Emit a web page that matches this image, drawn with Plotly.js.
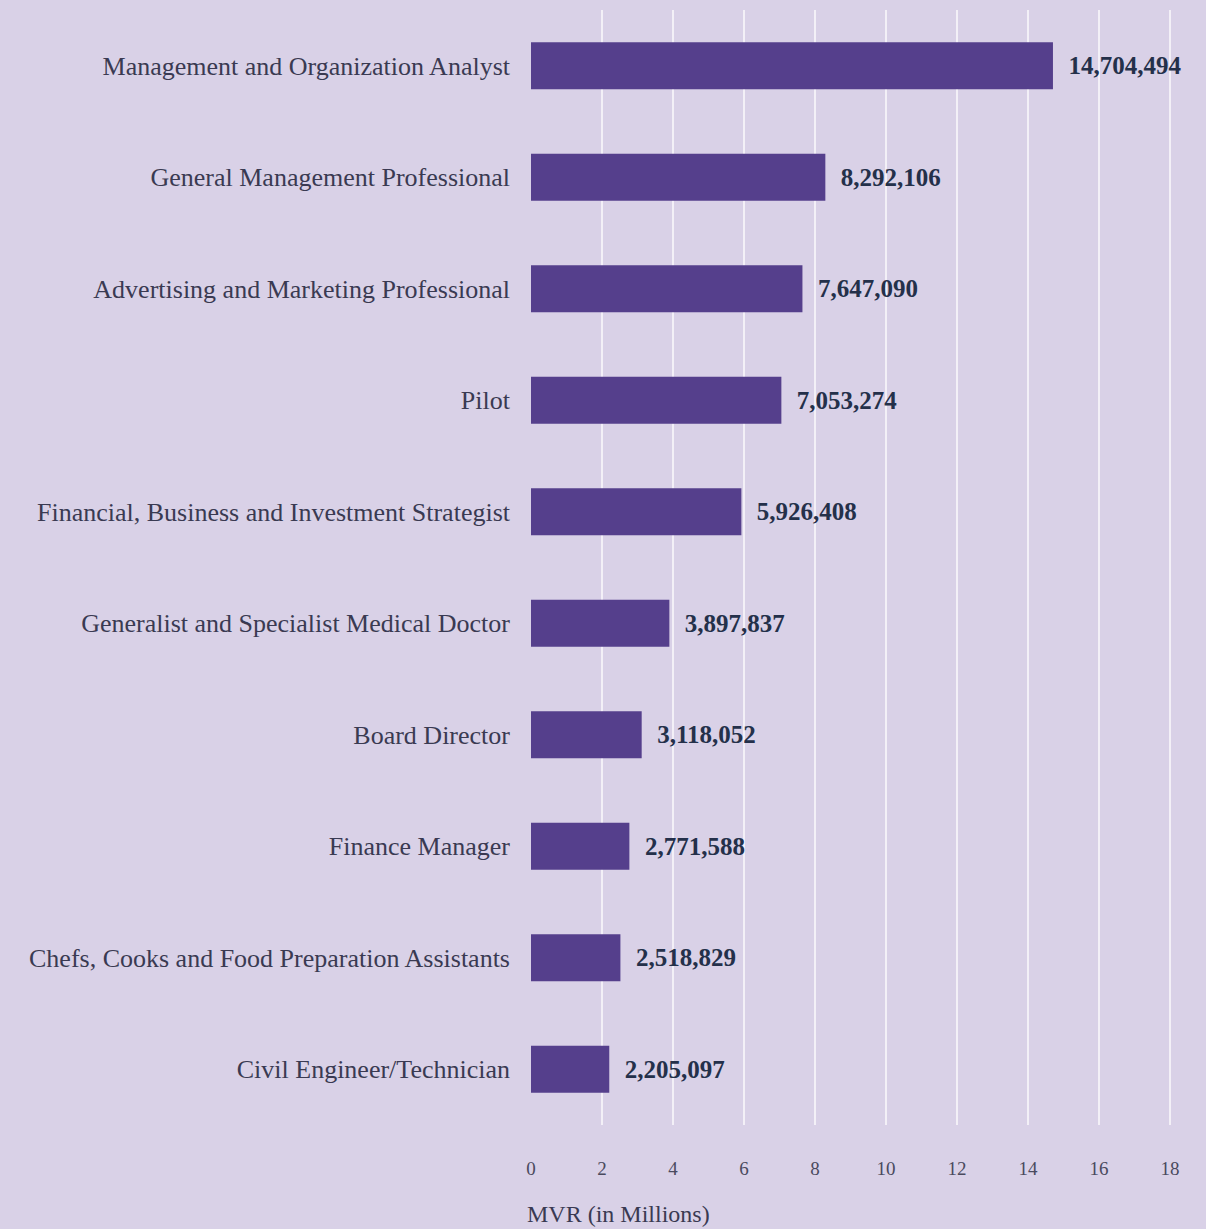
<!DOCTYPE html>
<html>
<head>
<meta charset="utf-8">
<script src="https://cdn.plot.ly/plotly-3.0.1.min.js"></script>
<style>html,body{margin:0;padding:0;background:#d9d1e7;}#chart{width:1206px;height:1229px;}</style>
</head>
<body>
<div id="chart"></div>
<script>
const categories = [
  "Management and Organization Analyst",
  "General Management Professional",
  "Advertising and Marketing Professional",
  "Pilot",
  "Financial, Business and Investment Strategist",
  "Generalist and Specialist Medical Doctor",
  "Board Director",
  "Finance Manager",
  "Chefs, Cooks and Food Preparation Assistants",
  "Civil Engineer/Technician"
];
const values = [14704494, 8292106, 7647090, 7053274, 5926408, 3897837, 3118052, 2771588, 2518829, 2205097];
const tickVals = [0, 2, 4, 6, 8, 10, 12, 14, 16, 18];

const xMillions = values.map(v => v / 1e6);
const labels = values.map(v => v.toLocaleString('en-US'));

const serif = "Liberation Serif, DejaVu Serif, serif";

const trace = {
  type: 'bar',
  orientation: 'h',
  y: categories,
  x: xMillions,
  text: labels,
  texttemplate: '  %{text}',
  textposition: 'outside',
  cliponaxis: false,
  textfont: {family: serif, size: 25, color: '#24304a', weight: 'bold'},
  marker: {color: '#553f8c'},
  width: 0.42,
  hoverinfo: 'skip'
};

const layout = {
  width: 1206,
  height: 1229,
  paper_bgcolor: '#d9d1e7',
  plot_bgcolor: '#d9d1e7',
  margin: {l: 531, r: 35, t: 10, b: 104},
  showlegend: false,
  bargap: 0.58,
  xaxis: {
    range: [0, 18.03],
    tickvals: tickVals,
    ticktext: tickVals.map(String),
    showgrid: true,
    gridcolor: '#f3f0f7',
    gridwidth: 2,
    zeroline: false,
    showline: false,
    ticks: '',
    ticklabelstandoff: 30,
    tickfont: {family: serif, size: 19, color: '#4a4a5e'}
  },
  yaxis: {
    autorange: 'reversed',
    showgrid: false,
    zeroline: false,
    showline: false,
    ticks: '',
    ticklabelstandoff: 20,
    tickfont: {family: serif, size: 26, color: '#3a3a52'}
  },
  annotations: [{
    text: 'MVR (in Millions)',
    xref: 'paper', yref: 'paper',
    x: 0, y: 0,
    xanchor: 'left', yanchor: 'top',
    xshift: -6, yshift: -74,
    showarrow: false,
    font: {family: serif, size: 24, color: '#3a3a52'}
  }]
};

Plotly.newPlot('chart', [trace], layout, {displayModeBar: false, staticPlot: true});
</script>
</body>
</html>
